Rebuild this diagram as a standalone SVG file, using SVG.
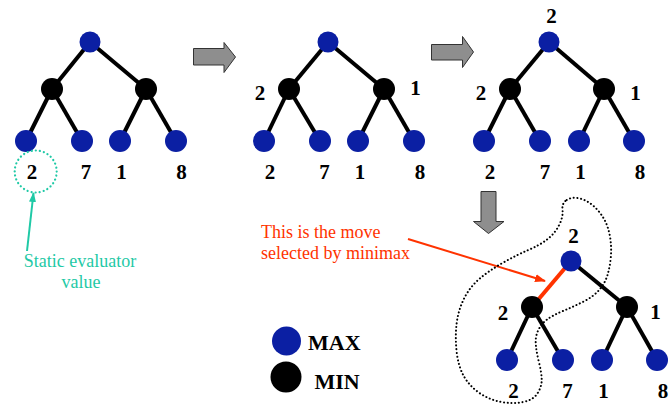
<svg xmlns="http://www.w3.org/2000/svg" width="672" height="404" viewBox="0 0 672 404">
<style>
.max{fill:#0B1FA3}
.min{fill:#000}
.e{stroke:#000;stroke-width:4}
.sel{stroke:#FF3300;stroke-width:4}
.n{font-family:"Liberation Serif","Times New Roman",serif;font-weight:bold;font-size:21px;fill:#000;text-anchor:middle}
.big{font-family:"Liberation Serif","Times New Roman",serif;font-weight:bold;font-size:22px;fill:#000}
.teal{font-family:"Liberation Serif","Times New Roman",serif;font-size:18px;fill:#1FC9A6;text-anchor:middle}
.red{font-family:"Liberation Serif","Times New Roman",serif;font-size:18px;fill:#FF3300}
.blk{fill:#8E8E8E;stroke:#333;stroke-width:1}
</style>
<defs>
<marker id="ta" markerUnits="userSpaceOnUse" markerWidth="10" markerHeight="10" viewBox="0 0 10 10" refX="9" refY="5" orient="auto"><path d="M0,1.5 L10,5 L0,8.5 Z" fill="#1FC9A6"/></marker>
<marker id="ra" markerUnits="userSpaceOnUse" markerWidth="11" markerHeight="10" viewBox="0 0 11 10" refX="10" refY="5" orient="auto"><path d="M0,1 L11,5 L0,9 Z" fill="#FF3300"/></marker>
</defs>

<g id="connectors">
<line class="e" x1="90" y1="42" x2="52" y2="89"/><line class="e" x1="90" y1="42" x2="146" y2="89"/>
<line class="e" x1="52" y1="89" x2="26" y2="141"/><line class="e" x1="52" y1="89" x2="82" y2="141"/>
<line class="e" x1="146" y1="89" x2="120" y2="141"/><line class="e" x1="146" y1="89" x2="176" y2="141"/>

<line class="e" x1="328" y1="42" x2="289" y2="89"/><line class="e" x1="328" y1="42" x2="384" y2="89"/>
<line class="e" x1="289" y1="89" x2="264" y2="141"/><line class="e" x1="289" y1="89" x2="320" y2="141"/>
<line class="e" x1="384" y1="89" x2="358" y2="141"/><line class="e" x1="384" y1="89" x2="414" y2="141"/>

<line class="e" x1="549" y1="42" x2="510" y2="89"/><line class="e" x1="549" y1="42" x2="604" y2="89"/>
<line class="e" x1="510" y1="89" x2="484" y2="141"/><line class="e" x1="510" y1="89" x2="540" y2="141"/>
<line class="e" x1="604" y1="89" x2="579" y2="141"/><line class="e" x1="604" y1="89" x2="634" y2="141"/>

<line class="sel" x1="571" y1="261" x2="532" y2="307"/><line class="e" x1="571" y1="261" x2="627" y2="307"/>
<line class="e" x1="532" y1="307" x2="507" y2="360"/><line class="e" x1="532" y1="307" x2="563" y2="360"/>
<line class="e" x1="627" y1="307" x2="602" y2="360"/><line class="e" x1="627" y1="307" x2="657" y2="360"/>

<line x1="27" y1="251" x2="33.5" y2="193" stroke="#1FC9A6" stroke-width="2" marker-end="url(#ta)"/>
<line x1="408" y1="239" x2="545" y2="281" stroke="#FF3300" stroke-width="2" marker-end="url(#ra)"/>
</g>

<g id="arrow1"><polygon class="blk" points="193.5,48.5 224,48.5 224,42.5 235.5,57 224,72.5 224,65 193.5,65"/></g>
<g id="arrow2"><polygon class="blk" points="431.5,44.5 462.5,44.5 462.5,36.5 473.5,52 462.5,67.5 462.5,60 431.5,60"/></g>
<g id="arrow3"><polygon class="blk" points="481,191.5 496,191.5 496,221.5 504,221.5 488.5,233.5 473.5,221.5 481,221.5"/></g>

<g id="tree1">
<circle class="max" cx="90" cy="42" r="10.5"/>
<circle class="min" cx="52" cy="89" r="11"/><circle class="min" cx="146" cy="89" r="11"/>
<circle class="max" cx="26" cy="141" r="11"/><circle class="max" cx="82" cy="141" r="11"/>
<circle class="max" cx="120" cy="141" r="11"/><circle class="max" cx="176" cy="141" r="11"/>
<text class="n" x="32" y="179">2</text><text class="n" x="86" y="179">7</text>
<text class="n" x="121.5" y="179">1</text><text class="n" x="181.5" y="179">8</text>
</g>

<g id="static-eval">
<circle cx="35.7" cy="171.5" r="21" fill="none" stroke="#1FC9A6" stroke-width="2.2" stroke-dasharray="0.1 4" stroke-linecap="round"/>
<text class="teal" x="80" y="267">Static evaluator</text>
<text class="teal" x="81" y="288">value</text>
</g>

<g id="tree2">
<circle class="max" cx="328" cy="42" r="10.5"/>
<circle class="min" cx="289" cy="89" r="11"/><circle class="min" cx="384" cy="89" r="11"/>
<circle class="max" cx="264" cy="141" r="11"/><circle class="max" cx="320" cy="141" r="11"/>
<circle class="max" cx="358" cy="141" r="11"/><circle class="max" cx="414" cy="141" r="11"/>
<text class="n" x="260" y="100">2</text><text class="n" x="415.5" y="95">1</text>
<text class="n" x="270" y="179">2</text><text class="n" x="324.5" y="179">7</text>
<text class="n" x="360" y="179">1</text><text class="n" x="420" y="179">8</text>
</g>

<g id="tree3">
<circle class="max" cx="549" cy="42" r="10.5"/>
<circle class="min" cx="510" cy="89" r="11"/><circle class="min" cx="604" cy="89" r="11"/>
<circle class="max" cx="484" cy="141" r="11"/><circle class="max" cx="540" cy="141" r="11"/>
<circle class="max" cx="579" cy="141" r="11"/><circle class="max" cx="634" cy="141" r="11"/>
<text class="n" x="551.5" y="22.5">2</text>
<text class="n" x="481" y="100">2</text><text class="n" x="635.5" y="100">1</text>
<text class="n" x="490" y="178.5">2</text><text class="n" x="545" y="178.5">7</text>
<text class="n" x="580.5" y="178.5">1</text><text class="n" x="640" y="178.5">8</text>
</g>

<g id="tree4">
<circle class="max" cx="571" cy="261" r="10.5"/>
<circle class="min" cx="532" cy="307" r="11"/><circle class="min" cx="627" cy="307" r="11"/>
<circle class="max" cx="507" cy="360" r="11"/><circle class="max" cx="563" cy="360" r="11"/>
<circle class="max" cx="602" cy="360" r="11"/><circle class="max" cx="657" cy="360" r="11"/>
<text class="n" x="573.5" y="242.5">2</text>
<text class="n" x="503" y="320">2</text><text class="n" x="655.5" y="318.5">1</text>
<text class="n" x="513.5" y="398">2</text><text class="n" x="567.5" y="398">7</text>
<text class="n" x="603.5" y="398">1</text><text class="n" x="663" y="398">8</text>
</g>

<g id="selection-outline">
<path d="M566.7,200 Q571.7,196.7 579.2,198.35 Q586.7,200 593.35,205.85 Q600,211.7 604.15,219.2 Q608.3,226.7 610,236.7 Q611.7,246.7 610.85,256.7 Q610,266.7 607.5,275 Q605,283.3 599.15,290 Q593.3,296.7 583.3,301.7 Q573.3,306.7 563.3,310.85 Q553.3,315 547.5,319.15 Q541.7,323.3 538.35,330 Q535,336.7 535.85,345 Q536.7,353.3 539.2,363.3 Q541.7,373.3 541.7,380 Q541.7,386.7 537.5,393.35 Q533.3,400 523.15,402 Q513,404 501.5,402 Q490,400 480,393.35 Q470,386.7 464.15,376.7 Q458.3,366.7 456.65,351.7 Q455,336.7 456.65,323.35 Q458.3,310 464.15,298.35 Q470,286.7 480,278.35 Q490,270 503.35,262.5 Q516.7,255 528.35,250 Q540,245 547.5,239.15 Q555,233.3 559.15,225 Q563.3,216.7 562.5,210 Q561.7,203.3 566.7,200 Z" fill="none" stroke="#000" stroke-width="2" stroke-dasharray="0.1 3.6" stroke-linecap="round"/>
</g>

<g id="minimax-note">
<text class="red" x="261" y="238">This is the move</text>
<text class="red" x="261" y="259">selected by minimax</text>
</g>

<g id="legend">
<circle class="max" cx="286.5" cy="341" r="14.5"/>
<text class="big" x="308" y="350">MAX</text>
<circle class="min" cx="286" cy="377" r="15.5"/>
<text class="big" x="314.5" y="389">MIN</text>
</g>
</svg>
